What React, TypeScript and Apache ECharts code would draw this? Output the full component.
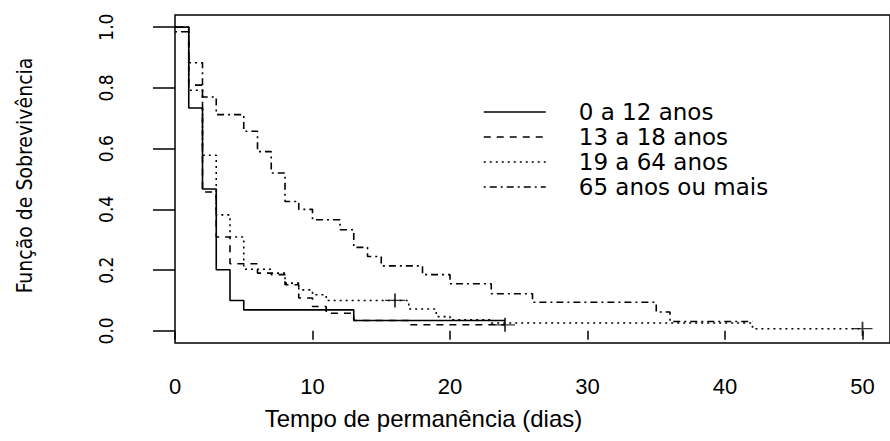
import React, { useEffect, useRef } from "react";
import * as echarts from "echarts";

// ---- data ----
const seriesNames = ["0 a 12 anos", "13 a 18 anos", "19 a 64 anos", "65 anos ou mais"];

const timesA = [0, 1, 2, 3, 4, 5, 13, 24];
const survA = [1, 0.734, 0.467, 0.201, 0.1, 0.069, 0.034, 0.034];

const timesB = [0, 1, 2, 3, 4, 6, 7, 8, 9, 10, 11, 13, 17, 24];
const survB = [1, 0.809, 0.457, 0.309, 0.221, 0.19, 0.185, 0.152, 0.108, 0.08, 0.058, 0.034, 0.02, 0.02];

const timesC = [0, 1, 2, 3, 4, 5, 7, 8, 9, 10, 11, 17, 19, 20, 23, 42, 50];
const survC = [1, 0.792, 0.578, 0.382, 0.309, 0.203, 0.19, 0.157, 0.135, 0.119, 0.1, 0.072, 0.047, 0.036, 0.026, 0.007, 0.007];

const timesD = [0, 1, 2, 3, 5, 6, 7, 8, 9, 10, 12, 13, 14, 15, 18, 20, 23, 26, 35, 36, 42];
const survD = [0.985, 0.883, 0.77, 0.712, 0.657, 0.59, 0.52, 0.426, 0.4, 0.366, 0.333, 0.275, 0.245, 0.214, 0.185, 0.155, 0.122, 0.094, 0.062, 0.031, 0.031];

const censorTimes = [16, 24, 50];
const censorSurv = [0.1, 0.02, 0.007];

const xTicks = [0, 10, 20, 30, 40, 50];
const yTicks = [0, 0.2, 0.4, 0.6, 0.8, 1.0];

const xTitle = "Tempo de permanência (dias)";
const yTitle = "Função de Sobrevivência";

const curveTimes = [timesA, timesB, timesC, timesD];
const curveSurv = [survA, survB, survC, survD];
const dashTypes: any[] = ["solid", [7, 6], [2, 4], [2, 4, 7, 4]];

export default function App() {
  const ref = useRef<HTMLDivElement>(null);
  useEffect(() => {
    if (!ref.current) return;
    const chart = echarts.init(ref.current, null, { renderer: "svg" });
    const lineSeries = seriesNames.map((name, k) => ({
      type: "line",
      name,
      step: "end",
      symbol: "none",
      data: curveTimes[k].map((t, i) => [t, curveSurv[k][i]]),
      lineStyle: { color: "#000", width: 1.6, type: dashTypes[k] },
      itemStyle: { color: "#000" },
      z: 3,
    }));
    const option: any = {
      animation: false,
      backgroundColor: "#fff",
      grid: {
        left: 175,
        top: 15,
        width: 719,
        height: 328,
        show: true,
        borderColor: "#000",
        borderWidth: 1.5,
        backgroundColor: "transparent",
      },
      legend: {
        orient: "vertical",
        left: 483,
        top: 100,
        padding: 0,
        itemWidth: 62,
        itemHeight: 14,
        itemGap: 1,
        selectedMode: false,
        data: seriesNames,
        itemStyle: { color: "transparent", borderColor: "transparent", borderWidth: 0, opacity: 0 },
        lineStyle: { width: 1.5 },
        textStyle: {
          fontFamily: "DejaVu Sans",
          fontSize: 23,
          lineHeight: 24,
          color: "#000",
          padding: [0, 0, 0, 28],
        },
      },
      xAxis: {
        type: "value",
        min: 0,
        max: 52,
        axisLine: { show: false },
        splitLine: { show: false },
        axisTick: {
          show: true,
          length: 9,
          customValues: xTicks,
          lineStyle: { color: "#000", width: 1.5 },
        },
        axisLabel: {
          customValues: xTicks,
          margin: 32,
          color: "#000",
          fontSize: 22,
          lineHeight: 22,
          fontFamily: "Liberation Sans, Arial, sans-serif",
          formatter: (v: number) => String(v),
        },
        name: xTitle,
        nameLocation: "middle",
        nameGap: 63,
        nameTextStyle: {
          color: "#000",
          fontSize: 24,
          fontFamily: "Liberation Sans, Arial, sans-serif",
          padding: [0, 218, 0, 0],
        },
      },
      yAxis: {
        type: "value",
        min: -0.04,
        max: 1.04,
        axisLine: { show: false },
        splitLine: { show: false },
        axisTick: {
          show: true,
          length: 22,
          customValues: yTicks,
          lineStyle: { color: "#000", width: 1.5 },
        },
        axisLabel: {
          customValues: yTicks,
          rotate: 90,
          margin: 60,
          color: "#000",
          fontSize: 19,
          lineHeight: 19,
          fontFamily: "Liberation Sans Narrow, DejaVu Sans Condensed, Liberation Sans, sans-serif",
          formatter: (v: number) => v.toFixed(1),
        },
        name: yTitle,
        nameLocation: "middle",
        nameRotate: 90,
        nameGap: 140,
        nameTextStyle: {
          color: "#000",
          fontSize: 21,
          fontFamily: "Liberation Sans Narrow, DejaVu Sans Condensed, Liberation Sans, sans-serif",
          padding: [0, 0, 0, 7],
        },
      },
      series: [
        ...lineSeries,
        {
          type: "scatter",
          name: "censura",
          data: censorTimes.map((t, i) => [t, censorSurv[i]]),
          symbol: "path://M0,7 L20,7 M10,0 L10,14",
          symbolSize: [20, 14],
          itemStyle: { color: "transparent", borderColor: "#000", borderWidth: 1.5 },
          z: 4,
        },
      ],
    };
    chart.setOption(option);
    return () => chart.dispose();
  }, []);
  return (
    <div
      ref={ref}
      style={{ position: "fixed", left: 0, top: 0, width: 890, height: 441, background: "#fff" }}
    />
  );
}
